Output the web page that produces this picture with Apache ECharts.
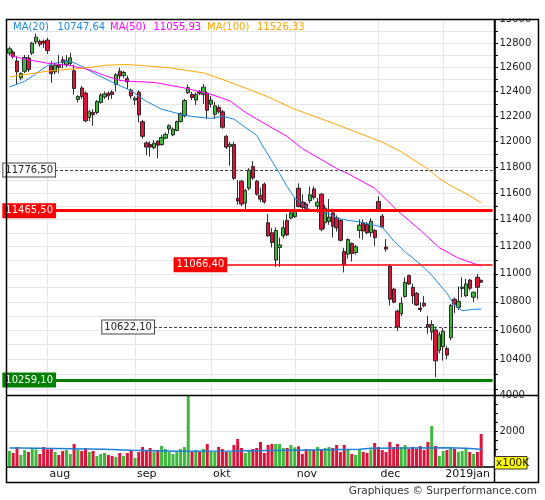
<!DOCTYPE html>
<html>
<head>
<meta charset="utf-8">
<script src="https://cdn.jsdelivr.net/npm/echarts@6/dist/echarts.min.js"></script>
<style>
  html, body { margin: 0; padding: 0; background: #fff; }
  #chart { width: 545px; height: 500px; }
</style>
</head>
<body>
<div id="chart"></div>
<script>
// trading days shown on the chart
const julDays = [18, 19, 20, 23, 24, 25, 26, 27, 30, 31];
const augDays = [1, 2, 3, 6, 7, 8, 9, 10, 13, 14, 15, 16, 17, 20, 21, 22, 23, 24, 27, 28, 29, 30, 31];
const sepDays = [3, 4, 5, 6, 7, 10, 11, 12, 13, 14, 17, 18, 19, 20, 21, 24, 25, 26, 27, 28];
const oktDays = [1, 2, 4, 5, 8, 9, 10, 11, 12, 15, 16, 17, 18, 19, 22, 23, 24, 25, 26, 29, 30, 31];
const novDays = [1, 2, 5, 6, 7, 8, 9, 12, 13, 14, 15, 16, 19, 20, 21, 22, 23, 26, 27, 28, 29, 30];
const decDays = [3, 4, 5, 6, 7, 10, 11, 12, 13, 14, 17, 18, 19, 20, 21, 27, 28];
const janDays = [2, 3, 4, 7, 8, 9, 10, 11, 14, 15, 16];

const monthStarts = ['2018-08-01', '2018-09-03', '2018-10-01', '2018-11-01', '2018-12-03', '2019-01-02'];
const monthNames = ['aug', 'sep', 'okt', 'nov', 'dec', '2019jan'];

const opens = [12716, 12725, 12650, 12510, 12565, 12675, 12716, 12810, 12815, 12815,
    12825, 12610, 12560, 12620, 12660, 12620, 12630, 12570, 12335, 12428,
    12387, 12190, 12230, 12230, 12310, 12355, 12385, 12395, 12456, 12566,
    12530, 12505, 12410, 12330, 12394, 12156, 11988, 11975, 11950, 12000,
    11975, 12025, 12098, 12051, 12086, 12157, 12204, 12390, 12376, 12330,
    12395, 12376, 12387, 12296, 12216, 12270, 12235, 12040, 11960, 11975,
    11560, 11690, 11524, 11636, 11803, 11690, 11581, 11667, 11375, 11301,
    11100, 11192, 11278, 11393, 11410, 11420, 11636, 11531, 11516, 11541,
    11631, 11500, 11591, 11375, 11384, 11449, 11412, 11392, 11162, 11143,
    11221, 11155, 11318, 11375, 11363, 11301, 11318, 11536, 11425, 11195,
    11054, 10890, 10734, 10715, 10837, 10987, 10903, 10860, 10755, 10790,
    10640, 10588, 10602, 10461, 10485, 10473, 10547, 10818, 10760, 10895,
    10843, 10955, 10832, 10975, 10953];
const closes = [12752, 12686, 12561, 12548, 12680, 12579, 12800, 12850, 12790, 12800,
    12737, 12546, 12616, 12598, 12640, 12650, 12676, 12424, 12358, 12358,
    12163, 12235, 12211, 12318, 12370, 12380, 12365, 12375, 12537, 12527,
    12555, 12478, 12364, 12346, 12210, 12040, 11955, 11955, 11986, 11970,
    12030, 12055, 12124, 12096, 12157, 12219, 12326, 12431, 12350, 12374,
    12385, 12435, 12247, 12330, 12283, 12235, 12112, 11954, 11977, 11712,
    11539, 11516, 11618, 11776, 11715, 11591, 11553, 11531, 11278, 11228,
    11318, 11210, 11338, 11285, 11449, 11466, 11498, 11491, 11484, 11586,
    11566, 11530, 11326, 11486, 11418, 11350, 11338, 11245, 11066, 11250,
    11148, 11197, 11358, 11313, 11301, 11387, 11265, 11465, 11343, 11180,
    10818, 10797, 10622, 10790, 10939, 10927, 10843, 10777, 10745, 10771,
    10622, 10640, 10389, 10569, 10593, 10428, 10774, 10783, 10803, 10905,
    10927, 10896, 10868, 10903, 10940];
const lows = [12700, 12670, 12460, 12490, 12550, 12560, 12700, 12790, 12770, 12760,
    12710, 12470, 12540, 12550, 12590, 12600, 12610, 12376, 12310, 12340,
    12151, 12160, 12124, 12215, 12300, 12340, 12330, 12340, 12400, 12497,
    12510, 12420, 12340, 12290, 12151, 12020, 11891, 11880, 11940, 11865,
    11965, 12020, 12060, 12040, 12080, 12150, 12190, 12380, 12330, 12290,
    12370, 12300, 12177, 12270, 12177, 12220, 12100, 11940, 11810, 11699,
    11510, 11500, 11473, 11620, 11700, 11580, 11530, 11520, 11270, 11192,
    11050, 11051, 11260, 11275, 11400, 11410, 11490, 11470, 11470, 11520,
    11550, 11449, 11310, 11330, 11360, 11265, 11310, 11235, 11010, 11110,
    11090, 11140, 11260, 11250, 11290, 11270, 11204, 11460, 11335, 11160,
    10774, 10790, 10595, 10700, 10830, 10920, 10785, 10770, 10727, 10760,
    10575, 10530, 10279, 10440, 10390, 10400, 10530, 10720, 10740, 10832,
    10832, 10880, 10797, 10818, 10935];
const highs = [12770, 12740, 12690, 12555, 12700, 12700, 12810, 12880, 12830, 12830,
    12845, 12650, 12640, 12700, 12690, 12700, 12720, 12620, 12370, 12445,
    12400, 12250, 12256, 12330, 12385, 12400, 12400, 12410, 12550, 12595,
    12570, 12530, 12425, 12360, 12410, 12170, 12000, 12000, 12010, 12010,
    12050, 12070, 12135, 12110, 12165, 12230, 12340, 12456, 12395, 12390,
    12410, 12460, 12400, 12362, 12315, 12290, 12250, 12050, 11996, 11996,
    11699, 11700, 11630, 11790, 11846, 11700, 11640, 11680, 11440, 11335,
    11340, 11265, 11393, 11440, 11470, 11560, 11674, 11590, 11530, 11650,
    11650, 11561, 11600, 11510, 11554, 11480, 11430, 11400, 11190, 11260,
    11230, 11210, 11400, 11400, 11380, 11410, 11330, 11574, 11440, 11255,
    11070, 10900, 10745, 10832, 10975, 10995, 10930, 10870, 10797, 10840,
    10700, 10670, 10625, 10588, 10615, 10490, 10785, 10830, 10910, 10975,
    10963, 10963, 10873, 10999, 10960];
// volume in units of 100K
const volumes = [873, 761, 1099, 648, 930, 817, 1042, 967, 704, 1099,
    967, 1042, 817, 648, 873, 930, 704, 1268, 930, 873,
    1042, 817, 873, 592, 704, 761, 648, 592, 535, 761,
    592, 761, 930, 479, 817, 1099, 873, 1042, 836, 930,
    1155, 986, 817, 704, 817, 986, 1099, 4000, 817, 930,
    817, 986, 1268, 817, 817, 1099, 986, 817, 817, 1211,
    1549, 1042, 761, 930, 986, 1042, 1380, 761, 1211, 1268,
    1268, 1268, 1042, 1042, 1211, 1080, 1136, 704, 986, 930,
    930, 1099, 986, 1042, 1099, 1042, 1211, 817, 1211, 986,
    704, 648, 930, 817, 770, 958, 1324, 1099, 930, 817,
    1380, 1099, 1268, 1099, 1211, 986, 1099, 986, 1155, 930,
    1380, 2280, 1155, 592, 873, 930, 1042, 986, 817, 873,
    1042, 817, 704, 817, 1831];

// moving averages at a few candles
const ma20Slots = [0, 4, 7, 10, 13, 16, 18, 20, 23, 27, 32, 36, 40, 45, 48, 53, 56, 59, 62, 65,
    67, 71, 73, 75, 77, 79, 83, 86, 89, 92, 95, 98, 101, 104, 108, 111, 115, 117, 119, 122, 124];
const ma20Vals = [12436, 12482, 12545, 12613, 12640, 12650, 12621, 12590, 12537, 12476, 12405, 12320,
    12256, 12216, 12198, 12182, 12198, 12177, 12111, 12047, 11943, 11750, 11649, 11561, 11515,
    11474, 11455, 11412, 11392, 11382, 11363, 11343, 11240, 11160, 11070, 10990, 10860, 10775,
    10737, 10746, 10748];
const ma50Slots = [0, 5, 10, 16, 21, 25, 29, 32, 38, 46, 53, 58, 62, 65, 73, 77, 83, 86, 89, 96,
    102, 108, 113, 118, 121, 124];
const ma50Vals = [12696, 12660, 12632, 12613, 12578, 12531, 12490, 12482, 12474, 12428, 12376,
    12322, 12232, 12177, 12039, 11943, 11840, 11788, 11748, 11636, 11466, 11320, 11190, 11114,
    11085, 11056];
const ma100Slots = [0, 10, 20, 25, 30, 34, 42, 51, 55, 62, 68, 75, 84, 89, 98, 103, 110, 113, 116, 120, 124];
const ma100Vals = [12519, 12566, 12594, 12614, 12621, 12615, 12594, 12552, 12510, 12428, 12356,
    12256, 12156, 12098, 11994, 11917, 11785, 11710, 11655, 11595, 11526];
const volMaSlots = [0, 3, 25, 32, 45, 59, 74, 92, 95, 115, 120, 124];
const volMaVals = [1042, 967, 911, 855, 873, 911, 967, 1024, 1060, 1030, 970, 970];

const maNames = ['MA(20)', 'MA(50)', 'MA(100)'];
const maLast = [10747.64, 11055.93, 11526.33];

// horizontal levels and the candle where each line starts
const levels = [11776.50, 11465.50, 11066.40, 10622.10, 10259.10];
const levelStart = [12, 12, 57, 38, 12];

const priceLabels = [10400, 10600, 10800, 11000, 11200, 11400, 11600, 11800, 12000, 12200, 12400, 12600, 12800, 13000];
const priceTicks = [10200, 10300, 10400, 10500, 10600, 10700, 10800, 10900, 11000, 11100, 11200, 11300, 11400,
    11500, 11600, 11700, 11800, 11900, 12000, 12100, 12200, 12300, 12400, 12500, 12600, 12700, 12800, 12900, 13000];

const FONT = 'DejaVu Sans';
const GREEN = '#3cb93c';
const RED = '#dc143c';
const MA_COLORS = ['#1e88dc', '#ff00ff', '#ffa500'];
const GRID_COLOR = '#e6e6e6';
const ln = Math.log;

const pad2 = d => (d < 10 ? '0' : '') + d;
const dates = [].concat(
    julDays.map(d => '2018-07-' + pad2(d)),
    augDays.map(d => '2018-08-' + pad2(d)),
    sepDays.map(d => '2018-09-' + pad2(d)),
    oktDays.map(d => '2018-10-' + pad2(d)),
    novDays.map(d => '2018-11-' + pad2(d)),
    decDays.map(d => '2018-12-' + pad2(d)),
    janDays.map(d => '2019-01-' + pad2(d)),
    ['p1', 'p2', 'p3']
);
const lastIndex = dates.length - 1;

const candleData = opens.map((o, i) => [ln(o), ln(closes[i]), ln(lows[i]), ln(highs[i])]);
const volData = volumes.map((v, i) => ({
    value: v,
    itemStyle: { color: closes[i] >= opens[i] ? GREEN : RED }
}));
const pairs = (slots, vals, f) => slots.map((s, i) => [s, f ? f(vals[i]) : vals[i]]);
const isMonthStart = (idx, value) => monthStarts.indexOf(value) >= 0;
const fmtLevel = v => v.toFixed(2).replace('.', ',');

const levelStyles = [
    { line: { color: '#444', width: 1, type: [3, 2] }, bg: '#fff', fg: '#222', border: '#444' },
    { line: { color: '#ff0000', width: 3, type: 'solid' }, bg: '#ff0000', fg: '#fff', border: '#ff0000' },
    { line: { color: '#ff0000', width: 1.5, type: 'solid' }, bg: '#ff0000', fg: '#fff', border: '#ff0000' },
    { line: { color: '#444', width: 1, type: [3, 2] }, bg: '#fff', fg: '#222', border: '#444' },
    { line: { color: '#008000', width: 3, type: 'solid' }, bg: '#008000', fg: '#fff', border: '#008000' }
];

const levelLines = levels.map((v, i) => [
    {
        xAxis: levelStart[i],
        yAxis: ln(v),
        lineStyle: levelStyles[i].line,
        label: {
            show: true,
            position: 'start',
            distance: 0,
            formatter: fmtLevel(v),
            color: levelStyles[i].fg,
            backgroundColor: levelStyles[i].bg,
            borderColor: levelStyles[i].border,
            borderWidth: 1,
            padding: [2, 2, 1, 2],
            fontSize: 10,
            fontFamily: FONT
        }
    },
    { xAxis: lastIndex, yAxis: ln(v) }
]);

const maLine = (k, slots, vals) => ({
    name: maNames[k],
    type: 'line',
    xAxisIndex: 0,
    yAxisIndex: 0,
    data: pairs(slots, vals, ln),
    showSymbol: false,
    connectNulls: true,
    silent: true,
    z: 3,
    lineStyle: { color: MA_COLORS[k], width: 1 }
});

const legendX = [13, 57.5, 110, 153.5, 207, 257];
const legendTexts = [];
maNames.forEach((n, k) => {
    legendTexts.push({ name: n, x: legendX[k * 2], color: MA_COLORS[k] });
    legendTexts.push({ name: fmtLevel(maLast[k]), x: legendX[k * 2 + 1], color: MA_COLORS[k] });
});

const chart = echarts.init(document.getElementById('chart'));

const option = {
    animation: false,
    backgroundColor: '#fff',
    grid: [
        { left: 7.5, top: 19.5, width: 487, height: 376, containLabel: false, outerBoundsMode: 'none' },
        { left: 7.5, top: 395.5, width: 487, height: 71, containLabel: false, outerBoundsMode: 'none' }
    ],
    xAxis: [
        {
            type: 'category',
            gridIndex: 0,
            data: dates,
            axisLine: { show: false },
            axisTick: { show: false },
            axisLabel: { show: false },
            splitLine: { show: true, interval: isMonthStart, alignWithLabel: true, lineStyle: { color: GRID_COLOR } }
        },
        {
            type: 'category',
            gridIndex: 1,
            data: dates,
            axisLine: { show: true, lineStyle: { color: '#000', width: 1.5 } },
            axisTick: { show: false },
            axisLabel: {
                interval: isMonthStart,
                formatter: v => monthNames[monthStarts.indexOf(v)],
                align: 'left',
                padding: [0, 0, 0, 2],
                margin: 2,
                fontSize: 11,
                color: '#111',
                fontFamily: FONT
            },
            splitLine: { show: true, interval: isMonthStart, alignWithLabel: true, lineStyle: { color: GRID_COLOR } }
        }
    ],
    yAxis: [
        {
            type: 'value',
            gridIndex: 0,
            position: 'right',
            min: ln(10155),
            max: ln(13000),
            axisLine: { show: true, lineStyle: { color: '#000', width: 1.5 } },
            axisTick: { show: true, length: 3.5, customValues: priceTicks.map(ln), lineStyle: { color: '#000' } },
            axisLabel: {
                customValues: priceLabels.map(ln),
                formatter: v => String(Math.round(Math.exp(v))),
                margin: 5,
                fontSize: 10,
                color: '#222',
                fontFamily: FONT
            },
            splitLine: { show: true, customValues: priceLabels.map(ln), lineStyle: { color: GRID_COLOR } }
        },
        {
            type: 'value',
            gridIndex: 1,
            position: 'right',
            min: 0,
            max: 4000,
            interval: 2000,
            axisLine: { show: true, lineStyle: { color: '#000', width: 1.5 } },
            axisTick: { show: true, length: 3.5, lineStyle: { color: '#000' } },
            minorTick: { show: true, splitNumber: 4, length: 3.5, lineStyle: { color: '#000' } },
            axisLabel: {
                formatter: v => (v ? String(v) : ''),
                margin: 5,
                fontSize: 10,
                color: '#222',
                fontFamily: FONT
            },
            splitLine: { show: true, lineStyle: { color: GRID_COLOR } }
        }
    ],
    series: [
        {
            name: 'DAX',
            type: 'candlestick',
            xAxisIndex: 0,
            yAxisIndex: 0,
            data: candleData,
            barWidth: 3.8,
            silent: true,
            z: 2,
            itemStyle: {
                color: GREEN,
                color0: RED,
                borderColor: '#1a1a1a',
                borderColor0: '#1a1a1a',
                borderColorDoji: '#1a1a1a',
                borderWidth: 0.9
            },
            markLine: {
                symbol: ['none', 'none'],
                silent: true,
                animation: false,
                z: 5,
                data: levelLines
            }
        },
        maLine(0, ma20Slots, ma20Vals),
        maLine(1, ma50Slots, ma50Vals),
        maLine(2, ma100Slots, ma100Vals),
        {
            name: 'Volume',
            type: 'bar',
            xAxisIndex: 1,
            yAxisIndex: 1,
            data: volData,
            barWidth: 3,
            silent: true
        },
        {
            name: 'Volume MA',
            type: 'line',
            xAxisIndex: 1,
            yAxisIndex: 1,
            data: pairs(volMaSlots, volMaVals),
            step: 'end',
            showSymbol: false,
            silent: true,
            z: 3,
            lineStyle: { color: '#1e7fd8', width: 1.5 }
        }
    ],
    graphic: [
        // hide upper half of the clipped top label, as in the source image
        { type: 'rect', z: 100, shape: { x: 495, y: 0, width: 50, height: 18.5 }, style: { fill: '#fff' } },
        { type: 'rect', z: 101, shape: { x: 6.5, y: 19.5, width: 532, height: 463 }, style: { fill: 'none', stroke: '#000', lineWidth: 1.5 } },
        { type: 'line', z: 101, shape: { x1: 6.5, y1: 395.5, x2: 538.5, y2: 395.5 }, style: { stroke: '#000', lineWidth: 1.5 } },
        { type: 'line', z: 101, shape: { x1: 494.5, y1: 19.5, x2: 494.5, y2: 482.5 }, style: { stroke: '#000', lineWidth: 1.5 } },
        { type: 'rect', z: 102, shape: { x: 494.5, y: 456.5, width: 32.5, height: 12.5 }, style: { fill: '#ffff00', stroke: '#333', lineWidth: 1 } },
        {
            type: 'text', z: 103,
            style: { text: 'x100K', x: 496, y: 463, fill: '#111', font: '10.5px "DejaVu Sans"', verticalAlign: 'middle' }
        },
        {
            type: 'text', z: 103,
            style: { text: 'Graphiques \u00a9 Surperformance.com', x: 537, y: 491, fill: '#333', font: '10.5px "DejaVu Sans"', align: 'right', verticalAlign: 'middle' }
        }
    ].concat(legendTexts.map(t => ({
        type: 'text',
        z: 103,
        style: { text: t.name, x: t.x, y: 27, fill: t.color, font: '10px "DejaVu Sans"', verticalAlign: 'middle' }
    })))
};

chart.setOption(option);

window.addEventListener('resize', () => chart.resize());
</script>
</body>
</html>
